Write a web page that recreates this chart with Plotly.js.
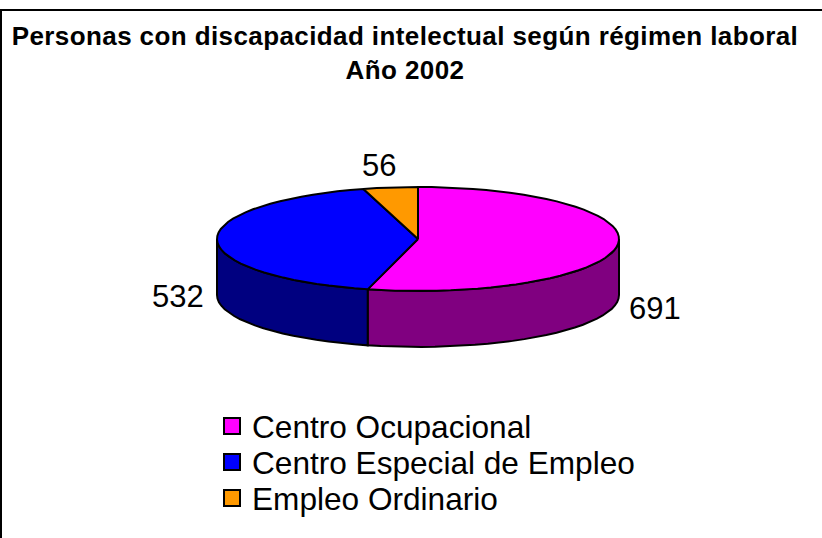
<!DOCTYPE html>
<html>
<head>
<meta charset="utf-8">
<script src="https://cdn.plot.ly/plotly-3.0.1.min.js"></script>
<style>html,body{margin:0;padding:0;background:#fff}#c{width:822px;height:538px}</style>
</head>
<body>
<div id="c"></div>
<script>
const categories = ["Centro Ocupacional", "Centro Especial de Empleo", "Empleo Ordinario"];
const values = [691, 532, 56];
const topColors = ["#FF00FF", "#0000FF", "#FF9900"];
const sideColors = ["#800080", "#000080", "#804D00"];
const labelPositions = [[655, 308], [178, 296], [379, 165]];
const legendRows = [426.5, 462.5, 498.5];

const cx = 418, cy = 239, rx = 201, ry = 52, depth = 56;
const total = values.reduce((a, b) => a + b, 0);
const px = a => cx + rx * Math.sin(a);
const py = a => cy - ry * Math.cos(a);
function arc(a0, a1, dy) {
  const n = Math.max(2, Math.ceil((a1 - a0) / 0.07));
  const xs = [], ys = [];
  for (let i = 0; i <= n; i++) {
    const a = a0 + (a1 - a0) * i / n;
    xs.push(px(a)); ys.push(py(a) + dy);
  }
  return [xs, ys];
}
const poly = (x, y, fill, name) => ({
  type: "scatter", mode: "lines", x, y, fill: "toself", fillcolor: fill,
  line: {color: "#000", width: 2, shape: "linear"},
  showlegend: false, hoverinfo: "skip", name
});

const traces = [];
let start = 0;
const faces = [];
values.forEach((v, i) => {
  const end = start + v / total * 2 * Math.PI;
  const a0 = Math.max(start, Math.PI / 2), a1 = Math.min(end, 3 * Math.PI / 2);
  if (a1 > a0) {
    const [tx, ty] = arc(a0, a1, 0);
    const [bx, by] = arc(a0, a1, depth);
    traces.push(poly(tx.concat(bx.reverse(), tx[0]), ty.concat(by.reverse(), ty[0]), sideColors[i], categories[i] + " lateral"));
  }
  const [ax, ay] = arc(start, end, 0);
  faces.push(poly([cx].concat(ax, cx), [cy].concat(ay, cy), topColors[i], categories[i]));
  start = end;
});
traces.push(...faces);
categories.forEach((c, i) => traces.push({
  type: "scatter", mode: "markers", x: [null], y: [null], name: c, showlegend: true,
  legend: i === 0 ? "legend" : "legend" + (i + 1),
  marker: {symbol: "square", size: 17, color: topColors[i], line: {color: "#000", width: 2}}
}));

const font = "Arial, 'Liberation Sans', sans-serif";
const layout = {
  width: 822, height: 538,
  margin: {l: 0, r: 0, t: 0, b: 0},
  paper_bgcolor: "#fff", plot_bgcolor: "#fff",
  xaxis: {range: [0, 822], visible: false, fixedrange: true},
  yaxis: {range: [538, 0], visible: false, fixedrange: true},
  title: {
    text: '<b><span style="letter-spacing:0.4px">Personas con discapacidad intelectual según régimen laboral</span><br><span style="letter-spacing:0.4px">Año 2002</span></b>',
    font: {family: font, size: 26, color: "#000"},
    x: 405 / 822, xanchor: "center", y: 1 - 45 / 538, yanchor: "top"
  },
  showlegend: true,
  shapes: [
    {type: "line", xref: "paper", yref: "paper", x0: 1 / 822, x1: 1 / 822, y0: 0, y1: 1 - 10 / 538, line: {color: "#000", width: 2}},
    {type: "line", xref: "paper", yref: "paper", x0: 0, x1: 1, y0: 1 - 10 / 538, y1: 1 - 10 / 538, line: {color: "#000", width: 2}}
  ],
  annotations: values.map((v, i) => ({
    x: labelPositions[i][0], y: labelPositions[i][1], xref: "x", yref: "y",
    text: String(v), showarrow: false, xanchor: "center", yanchor: "middle",
    font: {family: font, size: 31, color: "#000"}
  }))
};
legendRows.forEach((row, i) => {
  layout[i === 0 ? "legend" : "legend" + (i + 1)] = {
    x: 212 / 822, y: 1 - row / 538, xanchor: "left", yanchor: "middle",
    font: {family: font, size: 31.6, color: "#000"},
    bgcolor: "rgba(0,0,0,0)", itemwidth: 30
  };
});
Plotly.newPlot("c", traces, layout, {displayModeBar: false, staticPlot: true});
</script>
</body>
</html>
